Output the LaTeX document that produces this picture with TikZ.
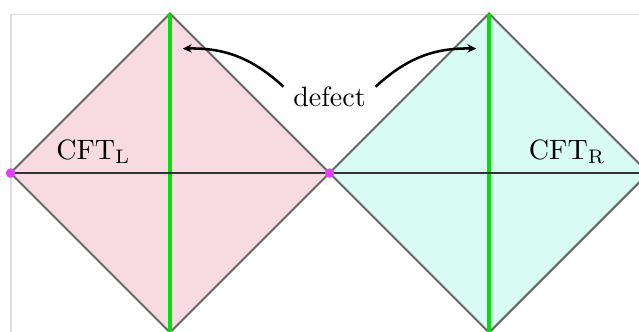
\documentclass[tikz,border=0pt]{standalone}
\usetikzlibrary{arrows.meta,positioning}
\definecolor{leftpink}{RGB}{248,218,226}
\definecolor{rightmint}{RGB}{216,252,244}
\definecolor{edgegray}{RGB}{102,102,102}
\definecolor{axisgray}{RGB}{51,51,51}
\definecolor{defectgreen}{RGB}{0,226,0}
\definecolor{pointmagenta}{RGB}{224,64,251}
\definecolor{framegray}{RGB}{220,220,220}

\begin{document}
\begin{tikzpicture}[
    x=2cm,
    y=2cm,
    >={Stealth[length=3.2pt,width=3pt]},
    edge/.style={draw=edgegray,line width=0.7pt},
    defectline/.style={defectgreen,line width=1.6pt},
    dot/.style={circle,fill=pointmagenta,inner sep=0pt,minimum size=3.4pt},
    pointer/.style={->,line width=0.9pt}
]
  \useasboundingbox (-1.066,-0.991) rectangle (2.94,1.085);
  \clip (-1.066,-0.991) rectangle (2.94,1.085);
  \draw[framegray,line width=0.7pt] (-0.994,-1.2) |- (3.2,0.994);

  \fill[leftpink] (-1,0) -- (0,1) -- (1,0) -- (0,-1) -- cycle;
  \fill[rightmint] (1,0) -- (2,1) -- (3,0) -- (2,-1) -- cycle;
  \draw[edge] (-1,0) -- (0,1) -- (1,0) -- (0,-1) -- cycle;
  \draw[edge] (1,0) -- (2,1) -- (3,0) -- (2,-1) -- cycle;

  \foreach \c in {0,2}
    \draw[defectline] (\c,1) -- (\c,-1);

  \draw[axisgray,line width=1pt] (-1,0) -- (3.2,0);
  \node[dot] (leftend) at (-1,0) {};
  \node[dot] (junction) at (1,0) {};

  \node (cftleft) at (-0.48,0.13) {$\mathrm{CFT}_{\mathrm{L}}$};
  \node (cftright) at (2.49,0.13) {$\mathrm{CFT}_{\mathrm{R}}$};

  \node (defect) at (1,0.48) {defect};
  \coordinate (lefttip) at (0.08,0.78);
  \coordinate (righttip) at (1.92,0.78);
  \draw[pointer,bend right=22] (defect.168) to (lefttip);
  \draw[pointer,bend left=22] (defect.12) to (righttip);
\end{tikzpicture}
\end{document}
